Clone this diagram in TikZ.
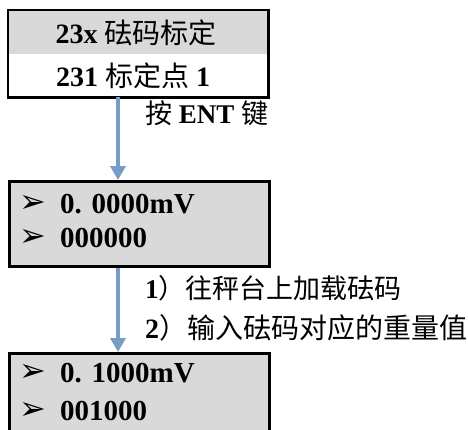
\documentclass[tikz,border=0pt]{standalone}
\usepackage{fontspec}
\setmainfont{Liberation Serif}
\newfontfamily\cjk{Noto Sans CJK SC}
\newfontfamily\sym{DejaVu Sans}
\usetikzlibrary{arrows.meta,calc}
\definecolor{boxgray}{RGB}{217,217,217}
\definecolor{arrblue}{RGB}{118,157,200}
\tikzset{
  panel/.style={rectangle, inner sep=0pt, anchor=north west, minimum width=260pt},
  boxline/.style={line width=2.5pt, draw=black},
  txt/.style={inner sep=0pt, font=\fontsize{28}{30}\selectfont},
  val/.style={inner sep=0pt, anchor=west, font=\fontsize{29}{31}\selectfont\bfseries},
  bullet/.style={inner sep=0pt, anchor=center, font=\fontsize{32}{33}\selectfont\sym},
  lbl/.style={inner sep=0pt, anchor=west},
  flow/.style={draw=arrblue, line width=3.5pt, -{Triangle[width=15pt,length=14pt]}}
}
\begin{document}
\begin{tikzpicture}[x=1pt,y=-1pt]
\useasboundingbox (0,0) rectangle (468,429);
\clip (0,0) rectangle (468,429);
% box 1
\node[panel, fill=boxgray, minimum height=44pt] (b1t) at (8,10) {};
\node[panel, fill=white, minimum height=43pt] (b1b) at (8,54) {};
\draw[boxline] (b1t.north west) rectangle (b1b.south east);
\node[txt] (t1) at (136,33) {\bfseries 23x\ \cjk\mdseries 砝码标定};
\node[txt] (t2) at (133,76) {\bfseries 231\ {\cjk\mdseries 标定点}\ 1};
% box 2
\node[panel, fill=boxgray, boxline, minimum height=85pt] (b2) at (8,180) {};
\node[bullet] (m1) at (33,204) {➢};
\node[val] (v1) at (60,204) {0. 0000mV};
\node[bullet] (m2) at (33,238) {➢};
\node[val] (v2) at (60,238) {000000};
% box 3
\node[panel, fill=boxgray, boxline, minimum height=95pt] (b3) at (8,352) {};
\node[bullet] (m3) at (33,373) {➢};
\node[val] (v3) at (60,373) {0. 1000mV};
\node[bullet] (m4) at (33,411) {➢};
\node[val] (v4) at (60,411) {001000};
% arrows
\draw[flow] ($(b1b.south west)+(110,0)$) -- ($(b2.north west)+(110,0)$);
\draw[flow] ($(b2.south west)+(110,0)$) -- ($(b3.north west)+(110,0)$);
% labels
\node[lbl, font=\fontsize{27}{29}\selectfont] (l1) at (145,113) {{\cjk 按}\ \textbf{ENT}\ {\cjk 键}};
\node[lbl, font=\fontsize{27}{29}\selectfont] (l2) at (145,288) {\textbf{1}{\cjk ）往秤台上加载砝码}};
\node[lbl, font=\fontsize{28}{30}\selectfont] (l3) at (145,328) {\textbf{2}{\cjk ）输入砝码对应的重量值}};
\end{tikzpicture}
\end{document}
